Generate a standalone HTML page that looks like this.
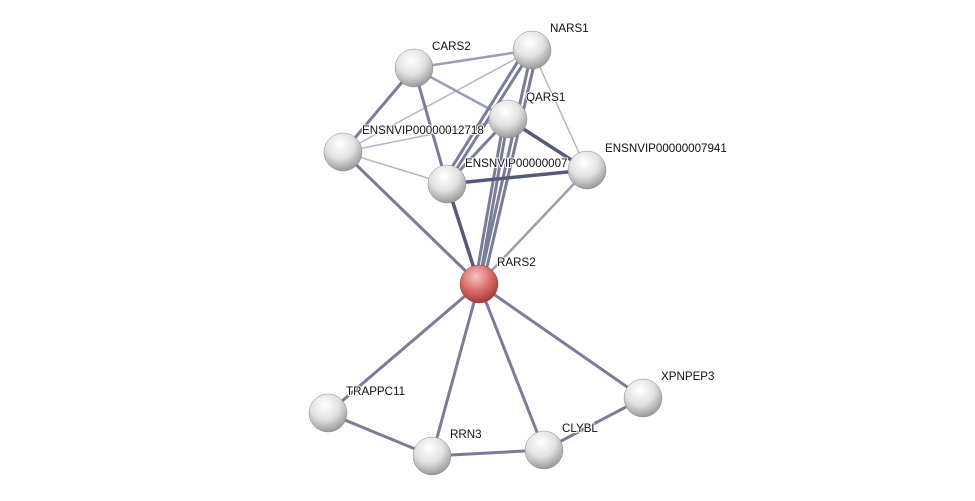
<!DOCTYPE html>
<html><head><style>body{margin:0;background:#fff}svg{display:block}text{font-family:"Liberation Sans",sans-serif;font-size:11.6px;fill:#111;paint-order:stroke;stroke:#fff;stroke-width:2px;stroke-linejoin:round}</style></head><body>
<svg width="975" height="501" viewBox="0 0 975 501">
<defs>
<radialGradient id="g" cx="0.42" cy="0.3" r="0.75"><stop offset="0" stop-color="#ffffff"/><stop offset="0.5" stop-color="#e2e2e2"/><stop offset="1" stop-color="#8e8e8e"/></radialGradient>
<radialGradient id="r" cx="0.42" cy="0.3" r="0.75"><stop offset="0" stop-color="#f6c4c4"/><stop offset="0.5" stop-color="#dc6e6e"/><stop offset="1" stop-color="#a03030"/></radialGradient>
</defs>
<g stroke-linecap="round">
<g stroke="#b4b6c8" stroke-width="1.5">
<line x1="343" y1="152" x2="532" y2="50"/><line x1="532" y1="50" x2="587" y2="170"/>
<line x1="343" y1="152" x2="508" y2="119"/><line x1="343" y1="152" x2="447" y2="184"/>
</g>
<g stroke="#9a9db4" stroke-width="2.5">
<line x1="414" y1="68" x2="532" y2="50"/><line x1="414" y1="68" x2="508" y2="119"/>
<line x1="587" y1="170" x2="479" y2="284"/>
</g>
<g stroke="#7a7d98" stroke-width="3">
<line x1="414" y1="68" x2="343" y2="152"/><line x1="414" y1="68" x2="447" y2="184"/>
<line x1="532" y1="50" x2="447" y2="184"/><line x1="525" y1="50" x2="444" y2="180"/>
<line x1="532" y1="50" x2="479" y2="284"/><line x1="537" y1="52" x2="483" y2="284"/>
<line x1="508" y1="119" x2="447" y2="184"/><line x1="508" y1="119" x2="479" y2="284"/><line x1="504" y1="119" x2="475" y2="284"/>
<line x1="343" y1="152" x2="479" y2="284"/>
<line x1="479" y1="284" x2="328" y2="413"/><line x1="479" y1="284" x2="432" y2="456"/>
<line x1="479" y1="284" x2="544" y2="450"/><line x1="479" y1="284" x2="643" y2="398"/>
<line x1="328" y1="413" x2="432" y2="456"/><line x1="432" y1="456" x2="544" y2="450"/><line x1="544" y1="450" x2="643" y2="398"/>
</g>
<g stroke="#565a78" stroke-width="3.5">
<line x1="508" y1="119" x2="587" y2="170"/><line x1="447" y1="184" x2="587" y2="170"/>
<line x1="447" y1="184" x2="479" y2="284"/>
</g>
</g>
<g>
<circle cx="532" cy="50" r="19" fill="url(#g)" stroke="#888" stroke-width="0.5"/>
<circle cx="414" cy="68" r="19" fill="url(#g)" stroke="#888" stroke-width="0.5"/>
<circle cx="508" cy="119" r="19" fill="url(#g)" stroke="#888" stroke-width="0.5"/>
<circle cx="343" cy="152" r="19" fill="url(#g)" stroke="#888" stroke-width="0.5"/>
<circle cx="447" cy="184" r="19" fill="url(#g)" stroke="#888" stroke-width="0.5"/>
<text x="465" y="167">ENSNVIP00000007</text>
<circle cx="587" cy="170" r="19" fill="url(#g)" stroke="#888" stroke-width="0.5"/>
<circle cx="479" cy="284" r="19" fill="url(#r)" stroke="#944" stroke-width="0.5"/>
<circle cx="328" cy="413" r="19" fill="url(#g)" stroke="#888" stroke-width="0.5"/>
<circle cx="432" cy="456" r="19" fill="url(#g)" stroke="#888" stroke-width="0.5"/>
<circle cx="544" cy="450" r="19" fill="url(#g)" stroke="#888" stroke-width="0.5"/>
<circle cx="643" cy="398" r="19" fill="url(#g)" stroke="#888" stroke-width="0.5"/>
</g>
<g>
<text x="550" y="32">NARS1</text>
<text x="432" y="50">CARS2</text>
<text x="526" y="101">QARS1</text>
<text x="362" y="134">ENSNVIP00000012718</text>
<text x="605" y="152">ENSNVIP00000007941</text>
<text x="497" y="266">RARS2</text>
<text x="346" y="395">TRAPPC11</text>
<text x="450" y="438">RRN3</text>
<text x="562" y="432">CLYBL</text>
<text x="661" y="380">XPNPEP3</text>
</g>
</svg>
</body></html>
